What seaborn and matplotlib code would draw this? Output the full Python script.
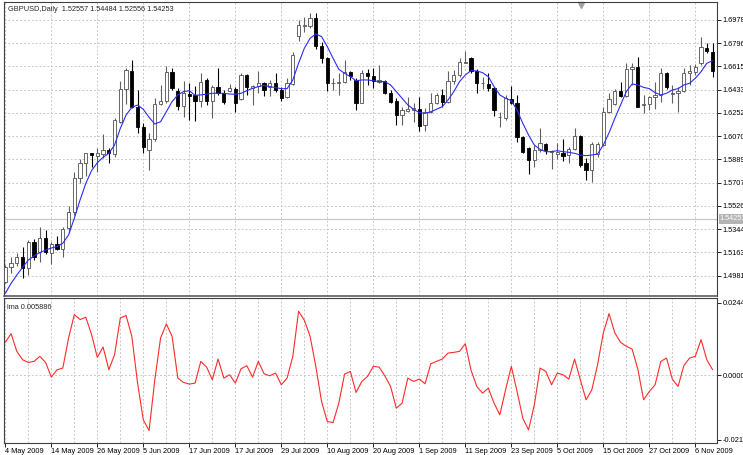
import numpy as np
import pandas as pd
import seaborn as sns
import matplotlib.pyplot as plt
import matplotlib.transforms as mtransforms

# GBPUSD daily candles
opens = [1.4935, 1.5047, 1.5078, 1.5130, 1.5039, 1.5242, 1.5164, 1.5279, 1.5162, 1.5227,
         1.5188, 1.5352, 1.5476, 1.5742, 1.5859, 1.5937, 1.5919, 1.5932, 1.5963, 1.5932,
         1.6184, 1.6442, 1.6582, 1.6296, 1.6145, 1.5963, 1.6046, 1.6320, 1.6346, 1.6575,
         1.6426, 1.6307, 1.6400, 1.6393, 1.6348, 1.6510, 1.6348, 1.6452, 1.6411, 1.6426,
         1.6437, 1.6359, 1.6549, 1.6445, 1.6463, 1.6489, 1.6452, 1.6489, 1.6432, 1.6374,
         1.6479, 1.6856, 1.6931, 1.6931, 1.6991, 1.6775, 1.6684, 1.6484, 1.6484, 1.6497,
         1.6575, 1.6510, 1.6333, 1.6562, 1.6541, 1.6497, 1.6505, 1.6411, 1.6348, 1.6236,
         1.6270, 1.6275, 1.6280, 1.6158, 1.6262, 1.6333, 1.6393, 1.6341, 1.6505, 1.6549,
         1.6645, 1.6684, 1.6583, 1.6484, 1.6478, 1.6445, 1.6218, 1.6215, 1.6359, 1.6328,
         1.6062, 1.5976, 1.5885, 1.5963, 1.6010, 1.5950, 1.5932, 1.5937, 1.5924, 1.5968,
         1.6072, 1.5864, 1.5807, 1.5932, 1.6002, 1.6262, 1.6322, 1.6426, 1.6385, 1.6593,
         1.6614, 1.6315, 1.6322, 1.6374, 1.6393, 1.6562, 1.6398, 1.6406, 1.6426, 1.6562,
         1.6575, 1.6640, 1.6762, 1.6731]
highs = [1.5065, 1.5130, 1.5162, 1.5203, 1.5261, 1.5266, 1.5360, 1.5339, 1.5248, 1.5292,
         1.5365, 1.5526, 1.5794, 1.5890, 1.5942, 1.5942, 1.5976, 1.6088, 1.5976, 1.6210,
         1.6505, 1.6601, 1.6666, 1.6432, 1.6171, 1.6093, 1.6367, 1.6471, 1.6619, 1.6601,
         1.6445, 1.6505, 1.6489, 1.6463, 1.6562, 1.6523, 1.6471, 1.6601, 1.6432, 1.6478,
         1.6452, 1.6562, 1.6557, 1.6471, 1.6583, 1.6497, 1.6510, 1.6562, 1.6452, 1.6523,
         1.6731, 1.6978, 1.7004, 1.7035, 1.7035, 1.6809, 1.6692, 1.6523, 1.6562, 1.6666,
         1.6583, 1.6523, 1.6588, 1.6593, 1.6601, 1.6627, 1.6510, 1.6432, 1.6367, 1.6302,
         1.6380, 1.6328, 1.6374, 1.6288, 1.6411, 1.6411, 1.6437, 1.6583, 1.6588, 1.6679,
         1.6739, 1.6692, 1.6593, 1.6536, 1.6567, 1.6452, 1.6262, 1.6393, 1.6463, 1.6393,
         1.6072, 1.5989, 1.6002, 1.6132, 1.6020, 1.5963, 1.6020, 1.6046, 1.5984, 1.6132,
         1.6080, 1.5898, 1.6028, 1.6028, 1.6302, 1.6406, 1.6437, 1.6497, 1.6640, 1.6640,
         1.6692, 1.6393, 1.6385, 1.6497, 1.6601, 1.6575, 1.6471, 1.6452, 1.6601, 1.6627,
         1.6635, 1.6843, 1.6796, 1.6796]
lows = [1.4922, 1.5000, 1.5057, 1.4961, 1.4987, 1.5104, 1.5091, 1.5151, 1.5073, 1.5183,
        1.5130, 1.5313, 1.5456, 1.5703, 1.5763, 1.5833, 1.5789, 1.5898, 1.5859, 1.5911,
        1.6171, 1.6322, 1.6288, 1.6098, 1.5942, 1.5807, 1.6036, 1.6315, 1.6333, 1.6432,
        1.6275, 1.6218, 1.6197, 1.6192, 1.6302, 1.6315, 1.6210, 1.6393, 1.6322, 1.6419,
        1.6262, 1.6354, 1.6393, 1.6315, 1.6406, 1.6385, 1.6385, 1.6419, 1.6348, 1.6367,
        1.6471, 1.6817, 1.6887, 1.6913, 1.6749, 1.6645, 1.6426, 1.6432, 1.6393, 1.6484,
        1.6510, 1.6275, 1.6328, 1.6471, 1.6445, 1.6489, 1.6400, 1.6328, 1.6158, 1.6158,
        1.6262, 1.6184, 1.6114, 1.6114, 1.6249, 1.6322, 1.6302, 1.6328, 1.6478, 1.6536,
        1.6640, 1.6562, 1.6406, 1.6437, 1.6426, 1.6229, 1.6140, 1.6197, 1.6322, 1.6028,
        1.5937, 1.5776, 1.5828, 1.5950, 1.5932, 1.5812, 1.5890, 1.5880, 1.5859, 1.5963,
        1.5833, 1.5729, 1.5716, 1.5911, 1.5994, 1.6249, 1.6315, 1.6374, 1.6380, 1.6471,
        1.6296, 1.6255, 1.6275, 1.6281, 1.6341, 1.6437, 1.6328, 1.6262, 1.6419, 1.6471,
        1.6549, 1.6627, 1.6718, 1.6536]
closes = [1.5047, 1.5078, 1.5130, 1.5039, 1.5242, 1.5125, 1.5279, 1.5170, 1.5227, 1.5188,
          1.5347, 1.5482, 1.5742, 1.5859, 1.5937, 1.5924, 1.5937, 1.5963, 1.5937, 1.6197,
          1.6442, 1.6588, 1.6296, 1.6145, 1.5984, 1.6046, 1.6320, 1.6346, 1.6570, 1.6450,
          1.6307, 1.6406, 1.6385, 1.6348, 1.6497, 1.6348, 1.6452, 1.6411, 1.6341, 1.6445,
          1.6333, 1.6549, 1.6452, 1.6463, 1.6489, 1.6432, 1.6489, 1.6432, 1.6367, 1.6489,
          1.6705, 1.6939, 1.6939, 1.6991, 1.6775, 1.6679, 1.6489, 1.6489, 1.6497, 1.6575,
          1.6541, 1.6333, 1.6562, 1.6541, 1.6505, 1.6510, 1.6411, 1.6341, 1.6236, 1.6275,
          1.6280, 1.6288, 1.6151, 1.6262, 1.6333, 1.6393, 1.6341, 1.6505, 1.6549, 1.6653,
          1.6653, 1.6583, 1.6489, 1.6489, 1.6445, 1.6275, 1.6223, 1.6367, 1.6333, 1.6062,
          1.5950, 1.5885, 1.5963, 1.6015, 1.5963, 1.5956, 1.5945, 1.5916, 1.5968, 1.6072,
          1.5846, 1.5807, 1.6010, 1.6010, 1.6262, 1.6359, 1.6426, 1.6385, 1.6593, 1.6614,
          1.6302, 1.6322, 1.6374, 1.6393, 1.6562, 1.6452, 1.6406, 1.6426, 1.6562, 1.6583,
          1.6609, 1.6765, 1.6739, 1.6583]

# blue moving average
ma_line = [1.4844, 1.4922, 1.4987, 1.5047, 1.5104, 1.5136, 1.5162, 1.5182, 1.5198, 1.5209,
           1.5235, 1.5300, 1.5430, 1.5573, 1.5703, 1.5802, 1.5864, 1.5906, 1.5937, 1.6002,
           1.6132, 1.6236, 1.6296, 1.6314, 1.6281, 1.6218, 1.6166, 1.6184, 1.6262, 1.6341,
           1.6393, 1.6419, 1.6426, 1.6390, 1.6393, 1.6400, 1.6406, 1.6406, 1.6406, 1.6400,
           1.6398, 1.6406, 1.6426, 1.6445, 1.6458, 1.6468, 1.6458, 1.6450, 1.6442, 1.6442,
           1.6510, 1.6640, 1.6757, 1.6835, 1.6869, 1.6848, 1.6770, 1.6679, 1.6593, 1.6562,
           1.6536, 1.6504, 1.6510, 1.6510, 1.6504, 1.6497, 1.6497, 1.6471, 1.6419, 1.6367,
           1.6315, 1.6281, 1.6255, 1.6249, 1.6262, 1.6281, 1.6302, 1.6354, 1.6419, 1.6497,
           1.6549, 1.6583, 1.6580, 1.6567, 1.6536, 1.6458, 1.6393, 1.6367, 1.6348, 1.6275,
           1.6171, 1.6080, 1.6002, 1.5968, 1.5950, 1.5950, 1.5958, 1.5950, 1.5945, 1.5937,
           1.5924, 1.5919, 1.5924, 1.5932, 1.6002, 1.6098, 1.6210, 1.6315, 1.6419, 1.6478,
           1.6471, 1.6452, 1.6442, 1.6411, 1.6393, 1.6406, 1.6432, 1.6442, 1.6471, 1.6484,
           1.6523, 1.6575, 1.6640, 1.6661]

# red "ima" oscillator in the lower window
ima = [0.01107, 0.01401, 0.00802, 0.00520, 0.00429, 0.00463, 0.00633, 0.00429, -0.00068, 0.00181,
       0.00237, 0.01254, 0.02045, 0.01876, 0.01955, 0.01367, 0.00599, 0.00949, 0.00181, 0.00689,
       0.01932, 0.02011, 0.01311, -0.00271, -0.01514, -0.01876, -0.00158, 0.01254, 0.01729, 0.01311,
       -0.00102, -0.00249, -0.00305, -0.00271, 0.00463, 0.00271, -0.00158, 0.00542, -0.00102, 0.00011,
       -0.00271, 0.00215, 0.00316, -0.00068, 0.00463, 0.00045, -0.00023, 0.00068, -0.00328, -0.00102,
       0.00633, 0.02158, 0.01853, 0.01311, 0.00294, -0.00893, -0.01571, -0.01605, -0.00949, 0.00034,
       0.00124, -0.00588, -0.00215, -0.00045, 0.00294, 0.00271, -0.00023, -0.00384, -0.01119, -0.00949,
       -0.00102, -0.00215, -0.00136, -0.00294, 0.00384, 0.00463, 0.00542, 0.00746, 0.00768, 0.00802,
       0.01062, 0.00158, -0.00384, -0.00610, -0.00441, -0.00949, -0.01345, -0.00497, 0.00294, -0.00554,
       -0.01458, -0.01853, -0.01006, 0.00237, 0.00124, -0.00328, 0.00068, 0.00011, -0.00136, 0.00542,
       -0.00158, -0.00836, -0.00497, 0.00350, 0.01424, 0.02079, 0.01424, 0.01107, 0.00972, 0.00881,
       0.00203, -0.00836, -0.00554, -0.00328, 0.00463, 0.00576, -0.00136, -0.00384, 0.00316, 0.00576,
       0.00633, 0.01198, 0.00520, 0.00181]

date_labels = ["4 May 2009", "14 May 2009", "26 May 2009", "5 Jun 2009", "17 Jun 2009",
               "17 Jul 2009", "29 Jul 2009", "10 Aug 2009", "20 Aug 2009", "1 Sep 2009",
               "11 Sep 2009", "23 Sep 2009", "5 Oct 2009", "15 Oct 2009", "27 Oct 2009",
               "6 Nov 2009"]
price_ticks = [1.49815, 1.51630, 1.53445, 1.55260, 1.57075, 1.58890, 1.60705,
               1.62520, 1.64335, 1.66150, 1.67965, 1.69780]
ima_ticks = [-0.0219, 0.0, 0.02443]
ima_tick_labels = ["-0.0219", "0.00000", "0.02443"]
last_price = 1.54253
header = "GBPUSD,Daily  1.52557 1.54484 1.52556 1.54253"
ima_header = "ima 0.005886"

sns.set_theme(style="white")
plt.rcParams["font.family"] = ["Liberation Sans", "DejaVu Sans"]

df = pd.DataFrame({"open": opens, "high": highs, "low": lows, "close": closes,
                   "ma": ma_line, "ima": ima})
df["bar"] = np.arange(len(df))
up = df["close"] >= df["open"]

fig = plt.figure(figsize=(7.43, 4.55), dpi=100)
ax = fig.add_axes([4 / 743, 159 / 455, 713 / 743, 294 / 455])
ax2 = fig.add_axes([4 / 743, 12 / 455, 713 / 743, 145 / 455], sharex=ax)

grid_kw = dict(color="#c8c8c8", linestyle=(0, (2, 2)), linewidth=0.7)
fs = 5.3

# candles
ax.vlines(df["bar"], df["low"], df["high"],
          colors=np.where(up, "#606060", "#000000"), linewidth=0.8, zorder=2)
ax.bar(df["bar"], (df["close"] - df["open"]).abs(),
       bottom=np.minimum(df["open"], df["close"]), width=0.55,
       color=np.where(up, "white", "black"),
       edgecolor=np.where(up, "#505050", "black"), linewidth=0.6, zorder=3)
sns.lineplot(data=df, x="bar", y="ma", ax=ax, color="#2b2bff", linewidth=0.8, zorder=4)
ax.axhline(last_price, color="#c8c8c8", linewidth=0.9, zorder=1)

ax.set_xlim(-0.23, 123.77)
ax.set_ylim(1.48234, 1.71185)
ax.set_yticks(price_ticks)
ax.set_yticklabels([f"{p:.5f}" for p in price_ticks])
ax.yaxis.tick_right()
ax.tick_params(axis="y", length=3, width=0.6, pad=1, labelsize=fs, colors="black")
ax.set_xticks(np.arange(0, len(df), 4))
ax.tick_params(axis="x", length=0, labelbottom=False)
ax.grid(True, **grid_kw)
ax.set_xlabel("")
ax.set_ylabel("")
ax.text(0.006, 0.985, header, transform=ax.transAxes, fontsize=fs, va="top", ha="left")
trans = mtransforms.blended_transform_factory(ax.transAxes, ax.transData)
ax.text(1.004, last_price, "1.54253", transform=trans, fontsize=fs, color="white",
        va="center", ha="left", clip_on=False,
        bbox=dict(boxstyle="square,pad=0.15", fc="#b4b4b4", ec="none"))
ax.plot([0.809], [0.99], marker="v", color="#a0a0a0", markersize=4,
        transform=ax.transAxes, clip_on=False)

# lower window
sns.lineplot(data=df, x="bar", y="ima", ax=ax2, color="#ff2a2a", linewidth=0.8, zorder=3)
ax2.set_ylim(-0.02295, 0.02605)
ax2.set_yticks(ima_ticks)
ax2.set_yticklabels(ima_tick_labels)
ax2.yaxis.tick_right()
ax2.tick_params(axis="y", length=3, width=0.6, pad=1, labelsize=fs, colors="black")
ax2.set_xticks(np.arange(0, len(df), 8))
ax2.set_xticks(np.arange(0, len(df), 4), minor=True)
ax2.set_xticklabels(date_labels, ha="left")
ax2.tick_params(axis="x", which="major", length=3, width=0.6, pad=0.5,
                labelsize=fs, colors="black", bottom=True)
ax2.tick_params(axis="x", which="minor", length=0)
ax2.grid(True, which="both", axis="x", **grid_kw)
ax2.axhline(0, **grid_kw)
ax2.set_xlabel("")
ax2.set_ylabel("")
ax2.text(0.004, 0.96, ima_header, transform=ax2.transAxes, fontsize=fs, va="top", ha="left")

for a in (ax, ax2):
    for s in a.spines.values():
        s.set_color("#404040")
        s.set_linewidth(0.8)
ax.spines["bottom"].set_linewidth(1.1)
ax.spines["bottom"].set_color("#505050")
ax2.spines["top"].set_linewidth(0.8)

fig.savefig("out.png", dpi=100, facecolor="white")
